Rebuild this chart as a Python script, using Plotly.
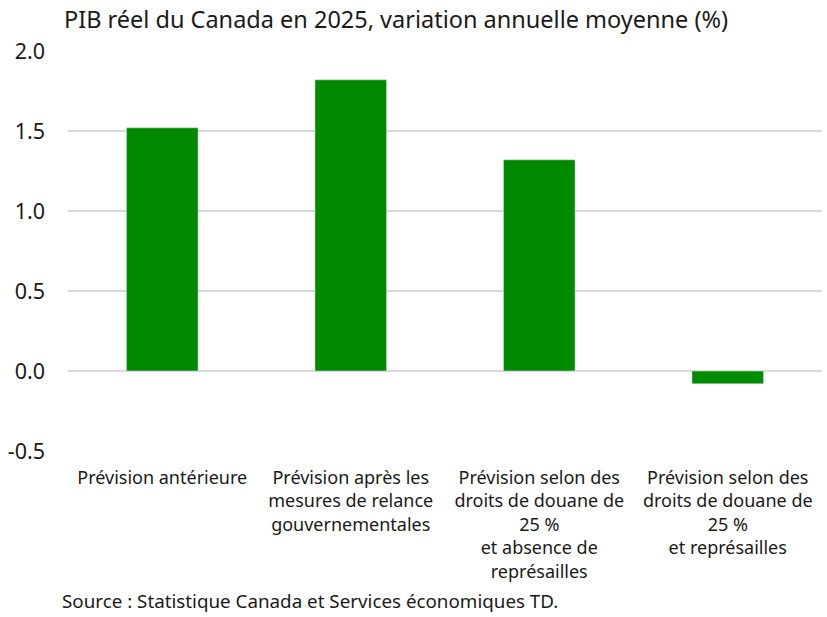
import plotly.graph_objects as go

categories = [
    "Prévision antérieure",
    "Prévision après les<br>mesures de relance<br>gouvernementales",
    "Prévision selon des<br>droits de douane de<br>25 %<br>et absence de<br>représailles",
    "Prévision selon des<br>droits de douane de<br>25 %<br>et représailles",
]
values = [1.52, 1.82, 1.32, -0.08]
y_ticks = [-0.5, 0.0, 0.5, 1.0, 1.5, 2.0]
y_tick_labels = ["-0.5", "0.0", "0.5", "1.0", "1.5", "2.0"]

FONT = "Noto Sans"
W, H = 827, 617
L, R, T, B = 68, 5, 51, 166

fig = go.Figure(go.Bar(x=categories, y=values, marker_color="#008a00", width=0.38))

fig.update_layout(
    width=W, height=H,
    margin=dict(l=L, r=R, t=T, b=B),
    paper_bgcolor="white", plot_bgcolor="white",
    font=dict(family=FONT, color="#1a1a1a"),
    showlegend=False,
    title=dict(text="PIB réel du Canada en 2025, variation annuelle moyenne (%)",
               x=(64) / W, xref="container", xanchor="left",
               y=1 - 20 / H, yref="container", yanchor="middle",
               font=dict(size=23.5, family=FONT, color="#1a1a1a")),
    xaxis=dict(showgrid=False, showline=False, ticks="", tickfont=dict(size=18, family=FONT),
               tickangle=0, automargin=False, ticklabelstandoff=14),
    yaxis=dict(range=[-0.5, 2.0], tickvals=y_ticks, ticktext=y_tick_labels,
               showgrid=True, gridcolor="#d9d9d9", gridwidth=2,
               zeroline=True, zerolinecolor="#d9d9d9", zerolinewidth=2,
               showline=False, ticks="", ticklabelstandoff=22,
               tickfont=dict(size=21.5, family=FONT), automargin=False),
    annotations=[dict(text="Source : Statistique Canada et Services économiques TD.",
                      x=(60 - L) / (W - L - R), xref="paper",
                      y=(451 - 601) / (451 - 51), yref="paper", showarrow=False,
                      xanchor="left", yanchor="middle", font=dict(size=18.8, family=FONT))],
)

fig.write_html("out.html", config={"displayModeBar": False})

with open("out.html", encoding="utf-8") as f:
    html = f.read()
html = html.replace("<body>", '<body style="margin:0;padding:0">', 1)
with open("out.html", "w", encoding="utf-8") as f:
    f.write(html)
